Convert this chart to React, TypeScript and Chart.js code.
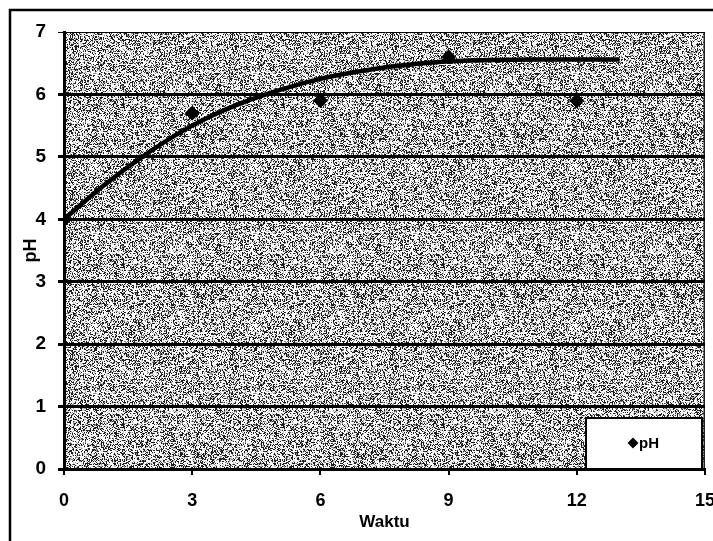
import React, { useEffect, useRef } from "react";
import { Chart, registerables } from "chart.js";

Chart.register(...registerables);

// Observed pH values
const obsTime = [0, 3, 6, 9, 12];
const obsPH = [4.0, 5.7, 5.9, 6.6, 5.9];

// Trend line
const trendTime = [0, 1, 2, 3, 4, 5, 6, 7, 8, 9, 10, 11, 12, 13];
const trendPH = [4.0, 4.58, 5.08, 5.5, 5.82, 6.06, 6.25, 6.38, 6.47, 6.53, 6.55, 6.56, 6.56, 6.56];

const xTicks = [0, 3, 6, 9, 12, 15];
const yTicks = [0, 1, 2, 3, 4, 5, 6, 7];

const seriesLabel = "pH";
const xTitle = "Waktu";
const yTitle = "pH";

const FONT = "'Liberation Sans', Arial, sans-serif";

function makeNoise(ctx: CanvasRenderingContext2D): CanvasPattern | string {
  const size = 160;
  const c = document.createElement("canvas");
  c.width = size;
  c.height = size;
  const g = c.getContext("2d");
  if (!g) return "#aaaaaa";
  const img = g.createImageData(size, size);
  for (let i = 0; i < size * size; i++) {
    let h = (i * 2654435761) >>> 0;
    h = (h ^ (h >>> 15)) >>> 0;
    h = Math.imul(h, 2246822507) >>> 0;
    h = (h ^ (h >>> 13)) >>> 0;
    h = Math.imul(h, 3266489909) >>> 0;
    h = (h ^ (h >>> 16)) >>> 0;
    const r = (h % 1000) / 1000;
    let v = 255;
    if (r < 0.3) v = 30;
    else if (r < 0.4) v = 140;
    else if (r < 0.5) v = 205;
    img.data[i * 4] = v;
    img.data[i * 4 + 1] = v;
    img.data[i * 4 + 2] = v;
    img.data[i * 4 + 3] = 255;
  }
  g.putImageData(img, 0, 0);
  return ctx.createPattern(c, "repeat") || "#aaaaaa";
}

const bgPlugin = {
  id: "bgNoise",
  beforeDraw(chart: any) {
    const { ctx, chartArea } = chart;
    ctx.save();
    ctx.fillStyle = "#ffffff";
    ctx.fillRect(0, 0, chart.width, chart.height);
    // outer frame
    ctx.strokeStyle = "#000";
    ctx.lineWidth = 2.5;
    ctx.beginPath();
    ctx.moveTo(10, chart.height);
    ctx.lineTo(10, 10);
    ctx.lineTo(chart.width, 10);
    ctx.stroke();
    ctx.fillStyle = makeNoise(ctx);
    ctx.fillRect(chartArea.left, chartArea.top, chartArea.right - chartArea.left, chartArea.bottom - chartArea.top);
    ctx.strokeStyle = "#222";
    ctx.lineWidth = 1.5;
    ctx.beginPath();
    ctx.moveTo(chartArea.right - 0.75, chartArea.top);
    ctx.lineTo(chartArea.right - 0.75, chartArea.bottom);
    ctx.stroke();
    ctx.restore();
  },
};

const legendPlugin = {
  id: "boxLegend",
  afterDraw(chart: any) {
    const { ctx, chartArea } = chart;
    const ds = chart.data.datasets.find((d: any) => d.showInLegend);
    if (!ds) return;
    const w = 116;
    const h = 51;
    const x = chartArea.right - 3 - w;
    const y = chartArea.bottom - h;
    ctx.save();
    ctx.fillStyle = "#fff";
    ctx.fillRect(x, y, w, h);
    ctx.strokeStyle = "#000";
    ctx.lineWidth = 2;
    ctx.strokeRect(x, y, w, h);
    const mx = x + 47;
    const my = y + 25;
    ctx.fillStyle = "#000";
    ctx.beginPath();
    ctx.moveTo(mx, my - 5.5);
    ctx.lineTo(mx + 5.5, my);
    ctx.lineTo(mx, my + 5.5);
    ctx.lineTo(mx - 5.5, my);
    ctx.closePath();
    ctx.fill();
    ctx.font = `bold 15px ${FONT}`;
    ctx.textBaseline = "middle";
    ctx.textAlign = "left";
    ctx.fillText(ds.label, mx + 6, my + 1);
    ctx.restore();
  },
};

export default function App() {
  const ref = useRef<HTMLCanvasElement | null>(null);

  useEffect(() => {
    if (!ref.current) return;
    const chart = new Chart(ref.current, {
      type: "scatter",
      data: {
        datasets: [
          {
            type: "line",
            label: "trend",
            data: trendTime.map((t, i) => ({ x: t, y: trendPH[i] })),
            borderColor: "#000",
            borderWidth: 4.5,
            pointRadius: 0,
            cubicInterpolationMode: "monotone",
            fill: false,
            order: 1,
          } as any,
          {
            label: seriesLabel,
            data: obsTime.map((t, i) => ({ x: t, y: obsPH[i] })),
            backgroundColor: "#000",
            borderColor: "#000",
            pointStyle: "rectRot",
            pointRadius: 7,
            showInLegend: true,
            order: 0,
          } as any,
        ],
      },
      options: {
        animation: false,
        responsive: false,
        devicePixelRatio: 1,
        layout: { padding: { left: 0, right: 8, top: 32, bottom: 0 } },
        plugins: { legend: { display: false }, tooltip: { enabled: false } },
        scales: {
          x: {
            type: "linear",
            min: 0,
            max: 15,
            afterBuildTicks: (s: any) => {
              s.ticks = xTicks.map((v) => ({ value: v }));
            },
            afterFit: (s: any) => {
              s.height = 72;
              s.paddingLeft = 0;
              s.paddingRight = 0;
            },
            ticks: {
              color: "#000",
              font: { family: FONT, size: 18, weight: "bold" },
              padding: 15,
              maxRotation: 0,
            },
            grid: {
              drawOnChartArea: false,
              color: "#000",
              lineWidth: 2,
              tickLength: 6,
            },
            border: { color: "#000", width: 3 },
            title: {
              display: true,
              text: xTitle,
              color: "#000",
              font: { family: FONT, size: 17, weight: "bold" },
              padding: { top: 0, bottom: 8 },
            },
          },
          y: {
            type: "linear",
            min: 0,
            max: 7,
            afterBuildTicks: (s: any) => {
              s.ticks = yTicks.map((v) => ({ value: v }));
            },
            afterFit: (s: any) => {
              s.width = 64;
              s.paddingTop = 0;
              s.paddingBottom = 0;
            },
            ticks: {
              color: "#000",
              font: { family: FONT, size: 19, weight: "bold" },
              padding: 12,
            },
            grid: {
              color: "#000",
              lineWidth: (c: any) => (c.tick && c.tick.value === 7 ? 1 : 3),
              tickLength: 6,
            },
            border: { color: "#000", width: 3 },
            title: {
              display: true,
              text: yTitle,
              color: "#000",
              font: { family: FONT, size: 18, weight: "bold" },
              padding: { top: 20, bottom: 0 },
            },
          },
        },
      },
      plugins: [bgPlugin, legendPlugin],
    });
    return () => chart.destroy();
  }, []);

  return (
    <div style={{ position: "absolute", left: 0, top: 0, width: 713, height: 541 }}>
      <canvas ref={ref} width={713} height={541} style={{ width: 713, height: 541 }} />
    </div>
  );
}
